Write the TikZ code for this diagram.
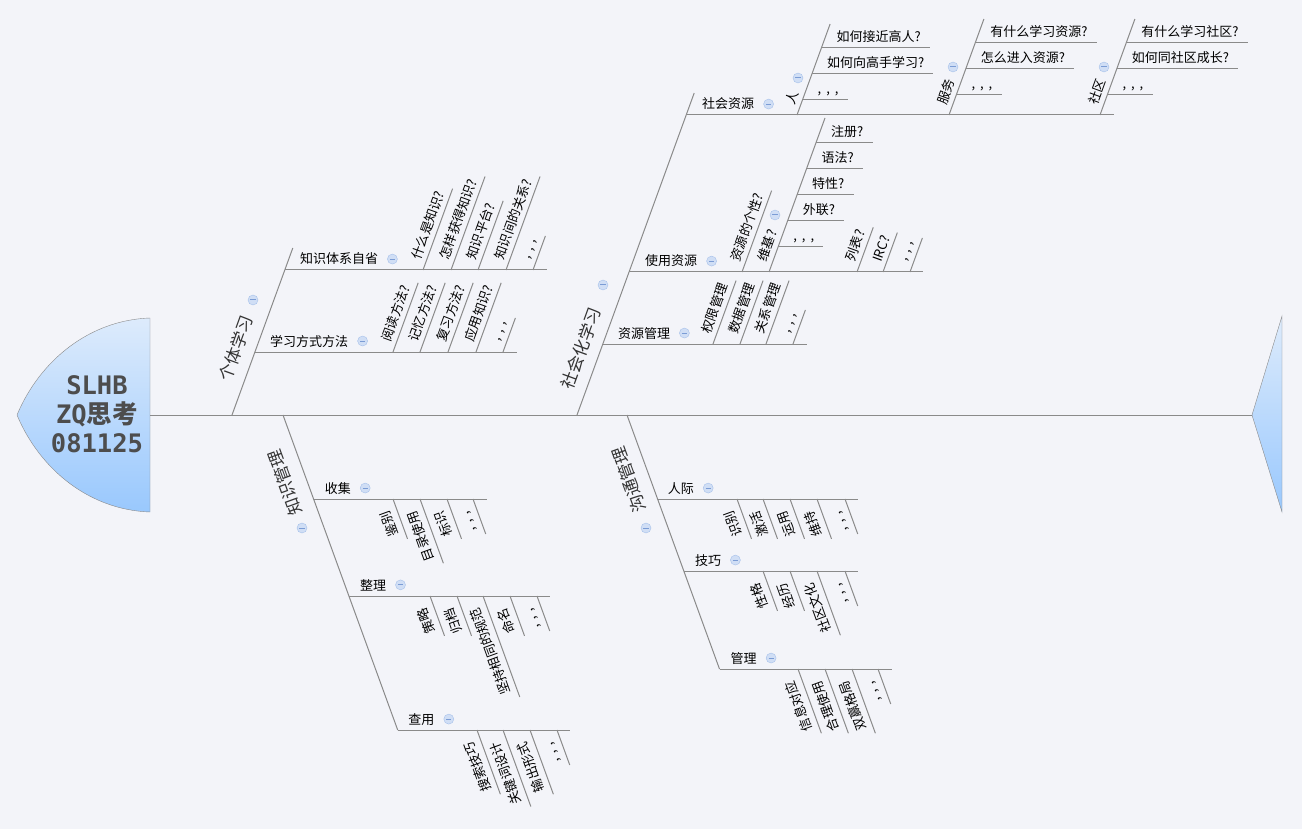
\documentclass[tikz,border=0pt]{standalone}
\usepackage{fontspec}
\setmainfont{Noto Sans CJK SC}
\newfontfamily\headmono{DejaVu Sans Mono}
\usetikzlibrary{positioning,calc}

\definecolor{bgcol}{HTML}{F3F4F9}
\definecolor{bonecol}{HTML}{8A8A8A}
\definecolor{headtop}{HTML}{DDEBFC}
\definecolor{headbot}{HTML}{99C8FD}
\definecolor{headtxt}{HTML}{4D4D4D}
\definecolor{foldfill}{HTML}{D0DEF5}
\definecolor{folddraw}{HTML}{A6C0EA}
\definecolor{foldbar}{HTML}{7B9CD5}
\definecolor{lblcol}{HTML}{333333}

\newcommand\etcmark{,\kern5pt,\kern5pt,}

\tikzset{
  bone/.style={draw=bonecol, line width=1pt},
  mainlbl/.style={font=\fontsize{17}{17}\selectfont, text=lblcol, inner sep=1pt},
  toplbl/.style={mainlbl, rotate=70},
  botlbl/.style={mainlbl, rotate=110},
  sublbl/.style={font=\fontsize{13}{13}\selectfont, inner sep=1pt, anchor=base west},
  upleaf/.style={font=\fontsize{13}{13}\selectfont, inner xsep=1pt, inner ysep=4.5pt, rotate=70, anchor=south west},
  downleaf/.style={font=\fontsize{13}{13}\selectfont, inner xsep=1pt, inner ysep=6pt, rotate=110, anchor=south east},
  foldbtn/.style={circle, draw=folddraw, fill=foldfill, minimum size=10pt, inner sep=0pt,
    path picture={\draw[foldbar, line width=1pt] ([xshift=-2.6pt]path picture bounding box.center) -- ([xshift=2.6pt]path picture bounding box.center);}},
}

% leaf above a rib, leaning right
\newcommand\topleaf[3]{%
  \coordinate (#2-b) at (#1);
  \node[upleaf] (#2) at ($(#2-b)+(70:7pt)$) {#3};
  \draw[bone] (#2-b) -- ($(#2.south east)+(70:6pt)$);}
% leaf below a rib, leaning right
\newcommand\botleaf[3]{%
  \coordinate (#2-b) at (#1);
  \node[downleaf] (#2) at ($(#2-b)+(-70:8pt)$) {#3};
  \draw[bone] (#2-b) -- ($(#2.south west)+(-70:6pt)$);}
% flat leaf off a slanted rib
\newcommand\sideleaf[3]{%
  \coordinate (#2-b) at (#1);
  \node[sublbl] (#2) at ([shift={(14pt,6pt)}]#2-b) {#3};
  \draw[bone] (#2-b) -- ($(#2-b -| #2.east)+(8pt,0)$);}

\begin{document}
\begin{tikzpicture}[x=1pt,y=-1pt]
    \fill[bgcol] (0,0) rectangle (1302,829);
    \useasboundingbox (0,0) rectangle (1302,829);

    % Head and tail
    \shadedraw[top color=headtop, bottom color=headbot, draw=bonecol] (150,318) .. controls (90,320) and (40,360) .. (17,415) .. controls (40,470) and (90,510) .. (150,512) -- cycle;
    \shadedraw[top color=headtop, bottom color=headbot, draw=bonecol] (1282,316) -- (1252,415) -- (1282,512) -- cycle;
    \node[font=\headmono\bfseries\fontsize{25.5}{29}\selectfont, align=center, text=headtxt] (head) at (97,414) {SLHB\\ZQ{\rmfamily\bfseries 思考}\\081125};

    % Spine
    \coordinate (head-r) at (150,415);
    \coordinate (tail-l) at (1252,415);
    \draw[bone] (head-r) -- (tail-l);

    % 个体学习
    \coordinate (gt-s) at (232,415);
    \coordinate (gt-e) at (292.8,248);
    \draw[bone] (gt-s) -- (gt-e);
    \node[toplbl] (gt) at (236,348) {个体学习};
    \node[foldbtn] (gt-f) at (253,300) {};

    \coordinate (zt) at (284.8,270);
    \coordinate (zt-e) at (547,270);
    \draw[bone] (zt) -- (zt-e);
    \node[sublbl] (zt-l) at ([shift={(14pt,6pt)}]zt) {知识体系自省};
    \node[foldbtn, right=8pt of zt-l] (zt-f) {};
    \foreach \x/\t [count=\i] in {423/什么是知识?,451/怎样获得知识?,478/知识平台?,506/知识间的关系?,533/\etcmark}
      {\topleaf{\x,270}{zt\i}{\t}}

    \coordinate (xf) at (255,352);
    \coordinate (xf-e) at (517,352);
    \draw[bone] (xf) -- (xf-e);
    \node[sublbl] (xf-l) at ([shift={(14pt,6pt)}]xf) {学习方式方法};
    \node[foldbtn, right=8pt of xf-l] (xf-f) {};
    \foreach \x/\t [count=\i] in {393/阅读方法?,420/记忆方法?,448/复习方法?,476/应用知识?,503/\etcmark}
      {\topleaf{\x,352}{xf\i}{\t}}

    % 社会化学习
    \coordinate (sh-s) at (577,415);
    \coordinate (sh-e) at (694.2,93);
    \draw[bone] (sh-s) -- (sh-e);
    \node[toplbl] (sh) at (581,348) {社会化学习};
    \node[foldbtn] (sh-f) at (603,285) {};

    \coordinate (zg) at (602.8,344);
    \coordinate (zg-e) at (807,344);
    \draw[bone] (zg) -- (zg-e);
    \node[sublbl] (zg-l) at ([shift={(14pt,6pt)}]zg) {资源管理};
    \node[foldbtn, right=8pt of zg-l] (zg-f) {};
    \foreach \x/\t [count=\i] in {713/权限管理,740/数据管理,766/关系管理,793/\etcmark}
      {\topleaf{\x,344}{zg\i}{\t}}

    \coordinate (sy) at (629,272);
    \coordinate (sy-e) at (923,272);
    \draw[bone] (sy) -- (sy-e);
    \node[sublbl] (sy-l) at ([shift={(15pt,6pt)}]sy) {使用资源};
    \node[foldbtn, right=8pt of sy-l] (sy-f) {};
    \foreach \x/\t [count=\i] in {742/资源的个性?,857/列表?,883/IRC?,910/\etcmark}
      {\topleaf{\x,272}{sy\i}{\t}}

    \coordinate (wj-b) at (769,272);
    \coordinate (wj-t) at (825,118);
    \draw[bone] (wj-b) -- (wj-t);
    \node[upleaf] (wj) at ($(wj-b)+(70:7pt)$) {维基?};
    \node[foldbtn] (wj-f) at (775,215) {};
    \foreach \x/\y/\t [count=\i] in {816/143/注册?,806.5/169/语法?,797/195/特性?,787.6/221/外联?,778.1/247/\etcmark}
      {\sideleaf{\x,\y}{wj\i}{\t}}

    \coordinate (sz) at (686,115);
    \coordinate (sz-e) at (1114,115);
    \draw[bone] (sz) -- (sz-e);
    \node[sublbl] (sz-l) at ([shift={(15pt,6pt)}]sz) {社会资源};
    \node[foldbtn, right=8pt of sz-l] (sz-f) {};

    \coordinate (ren-b) at (797,115);
    \coordinate (ren-t) at (830.1,24);
    \draw[bone] (ren-b) -- (ren-t);
    \node[upleaf] (ren) at ($(ren-b)+(70:7pt)$) {人};
    \node[foldbtn] (ren-f) at (798,78) {};
    \foreach \x/\y/\t [count=\i] in {821.4/48/如何接近高人?,811.9/74/如何向高手学习?,802.5/100/\etcmark}
      {\sideleaf{\x,\y}{ren\i}{\t}}

    \coordinate (fw-b) at (949,115);
    \coordinate (fw-t) at (983.9,19);
    \draw[bone] (fw-b) -- (fw-t);
    \node[upleaf] (fw) at ($(fw-b)+(70:7pt)$) {服务};
    \node[foldbtn] (fw-f) at (953,67) {};
    \foreach \x/\y/\t [count=\i] in {975.2/43/有什么学习资源?,965.7/69/怎么进入资源?,956.3/95/\etcmark}
      {\sideleaf{\x,\y}{fw\i}{\t}}

    \coordinate (sq-b) at (1100,115);
    \coordinate (sq-t) at (1134.9,19);
    \draw[bone] (sq-b) -- (sq-t);
    \node[upleaf] (sq) at ($(sq-b)+(70:7pt)$) {社区};
    \node[foldbtn] (sq-f) at (1104,67) {};
    \foreach \x/\y/\t [count=\i] in {1126.2/43/有什么学习社区?,1116.7/69/如何同社区成长?,1107.3/95/\etcmark}
      {\sideleaf{\x,\y}{sq\i}{\t}}

    % 知识管理
    \coordinate (zsg-s) at (283,415);
    \coordinate (zsg-e) at (397.7,730);
    \draw[bone] (zsg-s) -- (zsg-e);
    \node[botlbl] (zsg) at (285,483) {知识管理};
    \node[foldbtn] (zsg-f) at (302,528) {};

    \coordinate (sj) at (313.6,499);
    \coordinate (sj-e) at (487,499);
    \draw[bone] (sj) -- (sj-e);
    \node[sublbl] (sj-l) at ([shift={(10pt,6pt)}]sj) {收集};
    \node[foldbtn, right=8pt of sj-l] (sj-f) {};
    \foreach \x/\t [count=\i] in {393/鉴别,420/目录使用,447/标识,473/\etcmark}
      {\botleaf{\x,499}{sj\i}{\t}}

    \coordinate (zl) at (348.9,596);
    \coordinate (zl-e) at (550,596);
    \draw[bone] (zl) -- (zl-e);
    \node[sublbl] (zl-l) at ([shift={(10pt,6pt)}]zl) {整理};
    \node[foldbtn, right=8pt of zl-l] (zl-f) {};
    \foreach \x/\t [count=\i] in {430/策略,457/归档,483/坚持相同的规范,510/命名,537/\etcmark}
      {\botleaf{\x,596}{zl\i}{\t}}

    \coordinate (cy) at (397.7,730);
    \coordinate (cy-e) at (570,730);
    \draw[bone] (cy) -- (cy-e);
    \node[sublbl] (cy-l) at ([shift={(9.5pt,6pt)}]cy) {查用};
    \node[foldbtn, right=8pt of cy-l] (cy-f) {};
    \foreach \x/\t [count=\i] in {477/搜索技巧,503/关键词设计,530/输出形式,557/\etcmark}
      {\botleaf{\x,730}{cy\i}{\t}}

    % 沟通管理
    \coordinate (gg-s) at (627,415);
    \coordinate (gg-e) at (719.5,669);
    \draw[bone] (gg-s) -- (gg-e);
    \node[botlbl] (gg) at (629,480) {沟通管理};
    \node[foldbtn] (gg-f) at (646,528) {};

    \coordinate (rj) at (657.6,499);
    \coordinate (rj-e) at (858,499);
    \draw[bone] (rj) -- (rj-e);
    \node[sublbl] (rj-l) at ([shift={(9pt,6pt)}]rj) {人际};
    \node[foldbtn, right=8pt of rj-l] (rj-f) {};
    \foreach \x/\t [count=\i] in {737/识别,763/激活,790/运用,817/维持,845/\etcmark}
      {\botleaf{\x,499}{rj\i}{\t}}

    \coordinate (jq) at (683.8,571);
    \coordinate (jq-e) at (858,571);
    \draw[bone] (jq) -- (jq-e);
    \node[sublbl] (jq-l) at ([shift={(10pt,6pt)}]jq) {技巧};
    \node[foldbtn, right=8pt of jq-l] (jq-f) {};
    \foreach \x/\t [count=\i] in {763/性格,790/经历,817/社区文化,845/\etcmark}
      {\botleaf{\x,571}{jq\i}{\t}}

    \coordinate (gl) at (719.5,669);
    \coordinate (gl-e) at (892,669);
    \draw[bone] (gl) -- (gl-e);
    \node[sublbl] (gl-l) at ([shift={(10pt,6pt)}]gl) {管理};
    \node[foldbtn, right=8pt of gl-l] (gl-f) {};
    \foreach \x/\t [count=\i] in {798/信息对应,825/合理使用,852/双赢格局,878/\etcmark}
      {\botleaf{\x,669}{gl\i}{\t}}
\end{tikzpicture}
\end{document}
